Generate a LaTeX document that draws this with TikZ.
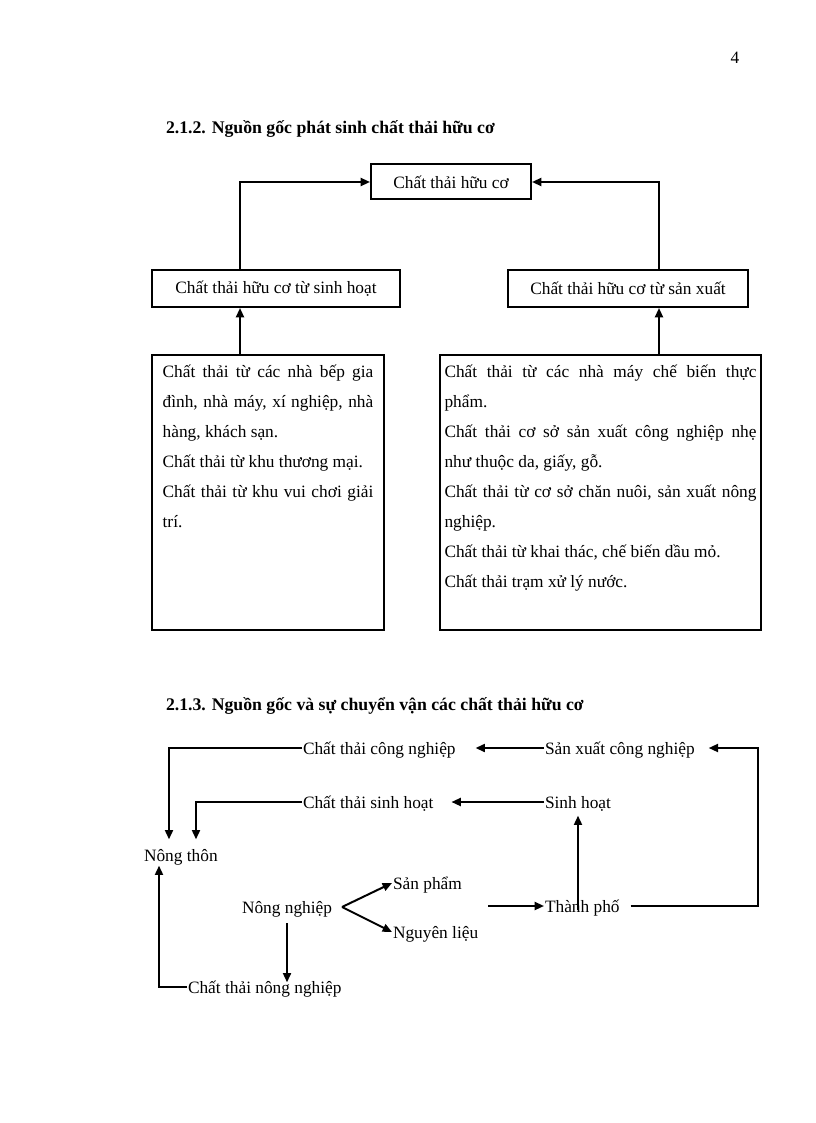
\documentclass[tikz,border=0pt]{standalone}
\usepackage{fontspec}
\setmainfont{Liberation Serif}
\usetikzlibrary{arrows.meta,calc}
\newcommand{\bodyfont}{\fontsize{13}{15.6}\selectfont}
\newcommand{\headfont}{\fontsize{13.3}{16}\selectfont\bfseries}
\newcommand{\boxfont}{\fontsize{13}{22.5}\selectfont}

\begin{document}
\begin{tikzpicture}[x=0.75pt,y=-0.75pt,
      font=\bodyfont,
      >={Triangle[length=7pt,width=6pt]},
      line width=1.5pt,
      box/.style={draw,inner sep=0pt,minimum height=27.75pt},
      src/.style={draw,inner ysep=0pt,minimum height=206.25pt},
      lbl/.style={inner sep=0pt,anchor=west,text height=2.25ex,text depth=.25ex}]
      \fill[white] (0,0) rectangle (816,1123);
      \useasboundingbox (0,0) rectangle (816,1123);

      \node (page) at (735,58) {4};

      % 2.1.2
      \node[lbl,font=\headfont] (head1) at (165,127)
        {2.1.2. Nguồn gốc phát sinh chất thải hữu cơ};
      \node[box,minimum width=120pt,minimum height=26.25pt] (top) at (451,182)
        {Chất thải hữu cơ};
      \node[box,minimum width=186pt] (lmid) at (276,288.5)
        {Chất thải hữu cơ từ sinh hoạt};
      \node[box,minimum width=180pt] (rmid) at (628,288.5)
        {Chất thải hữu cơ từ sản xuất};
      \node[src,inner xsep=8pt] (lsrc) at (268,492.5)
        {\parbox[c][206.25pt][t]{158pt}{\boxfont\rule{0pt}{17pt}Chất thải từ các nhà bếp gia\linebreak
        đình, nhà máy, xí nghiệp, nhà\linebreak hàng, khách sạn.\par
        Chất thải từ khu thương mại.\par
        Chất thải từ khu vui chơi giải\linebreak trí.}};
      \node[src,inner xsep=3.375pt] (rsrc) at (600.5,492.5)
        {\parbox[c][206.25pt][t]{234pt}{\boxfont\rule{0pt}{17pt}Chất thải từ các nhà máy chế biến thực\linebreak phẩm.\par
        Chất thải cơ sở sản xuất công nghiệp nhẹ\linebreak như thuộc da, giấy, gỗ.\par
        Chất thải từ cơ sở chăn nuôi, sản xuất nông\linebreak nghiệp.\par
        Chất thải từ khai thác, chế biến dầu mỏ.\par
        Chất thải trạm xử lý nước.}};

      \draw[->] ([xshift=66.75pt]lmid.north west) |- (top.west);
      \draw[->] ([xshift=114pt]rmid.north west) |- (top.east);
      \draw[->] ([xshift=66.75pt]lsrc.north west) -- ([xshift=66.75pt]lmid.south west);
      \draw[->] ([xshift=165pt]rsrc.north west) -- ([xshift=114pt]rmid.south west);

      % 2.1.3
      \node[lbl,font=\headfont] (head2) at (165,704)
        {2.1.3. Nguồn gốc và sự chuyển vận các chất thải hữu cơ};
      \node[lbl] (ctcn) at (302,748) {Chất thải công nghiệp};
      \node[lbl] (sxcn) at (544,748) {Sản xuất công nghiệp};
      \node[lbl] (ctsh) at (302,802) {Chất thải sinh hoạt};
      \node[lbl] (sh) at (544,802) {Sinh hoạt};
      \node[lbl] (nt) at (143,855) {Nông thôn};
      \node[lbl] (nn) at (241,907) {Nông nghiệp};
      \node[lbl] (sp) at (392,883) {Sản phẩm};
      \node[lbl] (nl) at (392,932) {Nguyên liệu};
      \node[lbl] (tp) at (544,906) {Thành phố};
      \node[lbl] (ctnn) at (187,987) {Chất thải nông nghiệp};
      \coordinate (tpin) at (488,906);

      \draw[->] (ctcn.west) -| ([xshift=19.5pt,yshift=5.25pt]nt.north west);
      \draw[->] (ctsh.west) -| ([xshift=39.75pt,yshift=5.25pt]nt.north west);
      \draw[->] (ctnn.west) -| ([xshift=12pt,yshift=-1.5pt]nt.south west);
      \draw[->] (sxcn.west) -- ([xshift=14.25pt]ctcn.east);
      \draw[->] (sh.west) -- ([xshift=12.75pt]ctsh.east);
      \draw[->] ([yshift=-5.75pt]nn.south) -- ($(nn.south |- ctnn.north)+(0,-3pt)$);
      \draw[->] ([xshift=6.75pt]nn.east) -- (sp.west);
      \draw[->] ([xshift=6.75pt]nn.east) -- (nl.west);
      \draw[->] (tpin) -- (tp.west);
      \draw[->] ([xshift=25.5pt,yshift=-3pt]tp.west) -- ($(tp.west |- sh.south)+(25.5pt,-3.75pt)$);
      \draw[->] ([xshift=7.5pt]tp.east) -- ++(127,0) |- ([xshift=9.75pt]sxcn.east);
\end{tikzpicture}
\end{document}
